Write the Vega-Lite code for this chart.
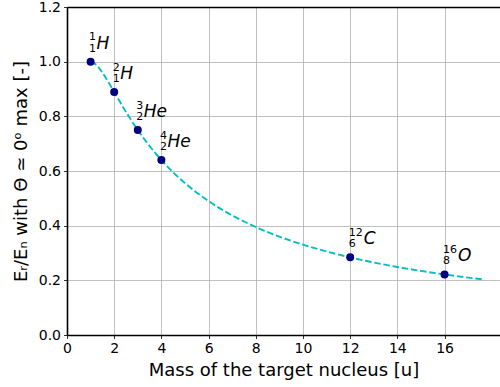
{
  "$schema": "https://vega.github.io/schema/vega-lite/v6.json",
  "width": 433,
  "height": 328,
  "autosize": {"type": "none"},
  "padding": {"left": 67, "top": 7, "right": 0, "bottom": 52},
  "config": {
    "font": "DejaVu Sans",
    "view": {"stroke": null},
    "axis": {
      "labelFont": "DejaVu Sans",
      "titleFont": "DejaVu Sans",
      "labelFontSize": 14,
      "titleFontSize": 18,
      "titleFontWeight": "normal",
      "labelColor": "black",
      "titleColor": "black",
      "labelFlush": false,
      "domainColor": "black",
      "domainWidth": 1.6,
      "tickColor": "black",
      "tickWidth": 0.8,
      "tickSize": 3.5,
      "labelPadding": 3,
      "gridColor": "#b0b0b0",
      "gridWidth": 0.8,
      "gridOpacity": 1
    }
  },
  "datasets": {
    "curve": [
      {"mass": 1.0, "ratio": 1.0},
      {"mass": 1.25, "ratio": 0.9877},
      {"mass": 1.5, "ratio": 0.96},
      {"mass": 1.75, "ratio": 0.9256},
      {"mass": 2.0, "ratio": 0.8889},
      {"mass": 2.25, "ratio": 0.8521},
      {"mass": 2.5, "ratio": 0.8163},
      {"mass": 2.75, "ratio": 0.7822},
      {"mass": 3.0, "ratio": 0.75},
      {"mass": 3.25, "ratio": 0.7197},
      {"mass": 3.5, "ratio": 0.6914},
      {"mass": 3.75, "ratio": 0.6648},
      {"mass": 4.0, "ratio": 0.64},
      {"mass": 4.5, "ratio": 0.595},
      {"mass": 5.0, "ratio": 0.5556},
      {"mass": 5.5, "ratio": 0.5207},
      {"mass": 6.0, "ratio": 0.4898},
      {"mass": 6.5, "ratio": 0.4622},
      {"mass": 7.0, "ratio": 0.4375},
      {"mass": 7.5, "ratio": 0.4152},
      {"mass": 8.0, "ratio": 0.3951},
      {"mass": 9.0, "ratio": 0.36},
      {"mass": 10.0, "ratio": 0.3306},
      {"mass": 11.0, "ratio": 0.3056},
      {"mass": 12.0, "ratio": 0.284},
      {"mass": 13.0, "ratio": 0.2653},
      {"mass": 14.0, "ratio": 0.2489},
      {"mass": 15.0, "ratio": 0.2344},
      {"mass": 16.0, "ratio": 0.2215},
      {"mass": 17.0, "ratio": 0.2099},
      {"mass": 17.7, "ratio": 0.2025}
    ],
    "nuclei": [
      {"mass": 1, "ratio": 1.0, "A": "1", "Z": "1", "sym": "H"},
      {"mass": 2, "ratio": 0.8889, "A": "2", "Z": "1", "sym": "H"},
      {"mass": 3, "ratio": 0.75, "A": "3", "Z": "2", "sym": "He"},
      {"mass": 4, "ratio": 0.64, "A": "4", "Z": "2", "sym": "He"},
      {"mass": 12, "ratio": 0.284, "A": "12", "Z": "6", "sym": "C"},
      {"mass": 16, "ratio": 0.2215, "A": "16", "Z": "8", "sym": "O"}
    ]
  },
  "resolve": {"axis": {"x": "independent"}},
  "layer": [
    {
      "data": {"name": "curve"},
      "mark": {"type": "line", "color": "#00bfbf", "strokeWidth": 1.9, "strokeDash": [6.5, 2.8], "interpolate": "monotone"},
      "encoding": {
        "x": {
          "field": "mass", "type": "quantitative",
          "scale": {"domain": [0, 18.35], "nice": false, "zero": false},
          "axis": {"orient": "bottom", "values": [0, 2, 4, 6, 8, 10, 12, 14, 16], "title": "Mass of the target nucleus [u]", "titlePadding": 6, "grid": true}
        },
        "y": {
          "field": "ratio", "type": "quantitative",
          "scale": {"domain": [0, 1.2], "nice": false},
          "axis": {"values": [0, 0.2, 0.4, 0.6, 0.8, 1.0, 1.2], "format": ".1f", "title": "Eᵣ/Eₙ with Θ ≃ 0ᵒ max [-]", "titlePadding": 8, "grid": true}
        }
      }
    },
    {
      "data": {"name": "nuclei"},
      "mark": {"type": "circle", "color": "#000080", "opacity": 1, "size": 64},
      "encoding": {
        "x": {"field": "mass", "type": "quantitative", "axis": {"orient": "top", "title": null, "labels": false, "ticks": false, "grid": false, "domain": true}},
        "y": {"field": "ratio", "type": "quantitative"}
      }
    },
    {
      "data": {"name": "nuclei"},
      "mark": {"type": "text", "align": "left", "baseline": "alphabetic", "fontSize": 11, "dx": -1.5, "dy": -21.5, "color": "black"},
      "encoding": {
        "x": {"field": "mass", "type": "quantitative", "axis": null},
        "y": {"field": "ratio", "type": "quantitative"},
        "text": {"field": "A"}
      }
    },
    {
      "data": {"name": "nuclei"},
      "mark": {"type": "text", "align": "left", "baseline": "alphabetic", "fontSize": 11, "dx": -1.5, "dy": -10, "color": "black"},
      "encoding": {
        "x": {"field": "mass", "type": "quantitative", "axis": null},
        "y": {"field": "ratio", "type": "quantitative"},
        "text": {"field": "Z"}
      }
    },
    {
      "data": {"name": "nuclei"},
      "transform": [{"filter": "datum.mass < 10"}],
      "mark": {"type": "text", "align": "left", "baseline": "alphabetic", "fontSize": 17, "fontStyle": "italic", "dx": 6, "dy": -13, "color": "black"},
      "encoding": {
        "x": {"field": "mass", "type": "quantitative", "axis": null},
        "y": {"field": "ratio", "type": "quantitative"},
        "text": {"field": "sym"}
      }
    },
    {
      "data": {"name": "nuclei"},
      "transform": [{"filter": "datum.mass >= 10"}],
      "mark": {"type": "text", "align": "left", "baseline": "alphabetic", "fontSize": 17, "fontStyle": "italic", "dx": 13.5, "dy": -13, "color": "black"},
      "encoding": {
        "x": {"field": "mass", "type": "quantitative", "axis": null},
        "y": {"field": "ratio", "type": "quantitative"},
        "text": {"field": "sym"}
      }
    }
  ]
}
